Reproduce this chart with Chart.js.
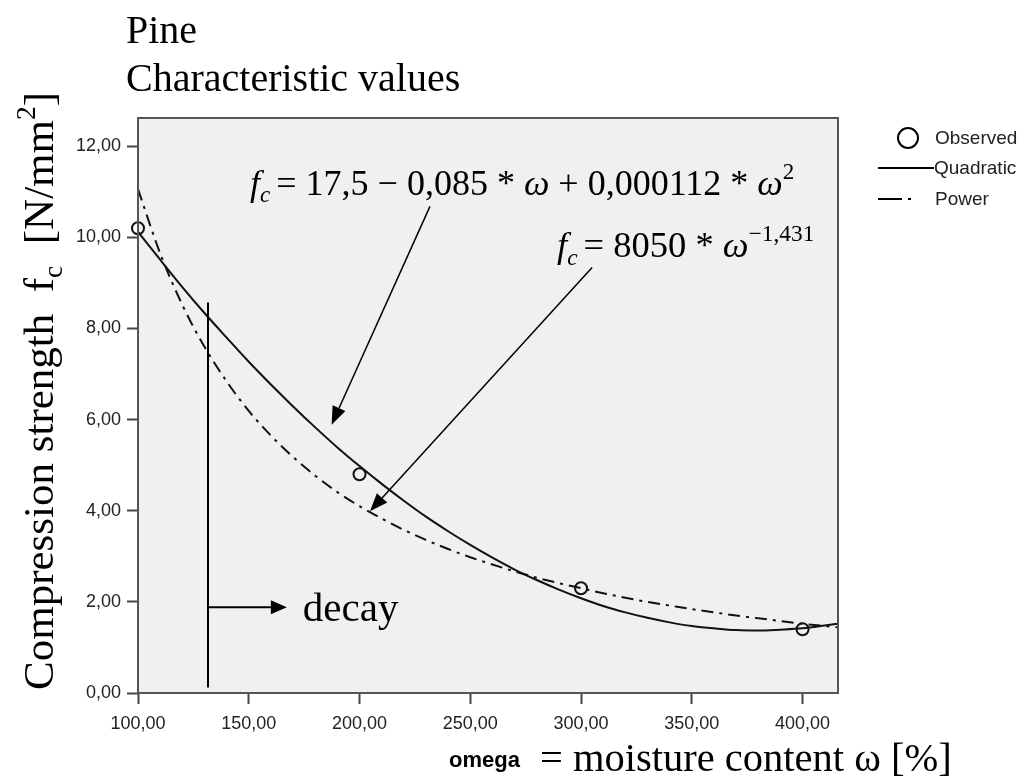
<!DOCTYPE html>
<html>
<head>
<meta charset="utf-8">
<script src="https://cdn.jsdelivr.net/npm/chart.js@4.4.0/dist/chart.umd.min.js"></script>
<style>
  html, body { margin: 0; padding: 0; background: #fff; }
  #wrap { width: 1030px; height: 781px; }
</style>
</head>
<body>
<div id="wrap"><canvas id="chart"></canvas></div>
<script>
// --- Data ---
const obsOmega = [100, 200, 300, 400];
const obsStrength = [10.2, 4.8, 2.3, 1.4];

const fitOmega = [100, 110, 120, 130, 140, 150, 160, 170, 180, 190, 200, 210, 220, 230, 240, 250,
                  260, 270, 280, 290, 300, 310, 320, 330, 340, 350, 360, 370, 380, 390, 400, 410, 416];
const quadStrength = [10.12, 9.51, 8.91, 8.34, 7.80, 7.27, 6.77, 6.29, 5.83, 5.39, 4.98, 4.59, 4.22, 3.87, 3.55, 3.25,
                      2.97, 2.71, 2.48, 2.27, 2.08, 1.91, 1.77, 1.65, 1.55, 1.47, 1.42, 1.38, 1.37, 1.39, 1.42, 1.48, 1.52];
const powerStrength = [11.06, 9.65, 8.52, 7.60, 6.84, 6.19, 5.65, 5.18, 4.77, 4.41, 4.10, 3.83, 3.58, 3.36, 3.16, 2.98,
                       2.82, 2.67, 2.53, 2.41, 2.30, 2.19, 2.09, 2.00, 1.92, 1.84, 1.77, 1.70, 1.64, 1.58, 1.52, 1.47, 1.44];

const xTickValues = [100, 150, 200, 250, 300, 350, 400];
const yTickValues = [0, 2, 4, 6, 8, 10, 12];

// annotation anchors in data units (omega, strength)
const decayLine = [[131.6, 0.12], [131.6, 8.57]];
const decayArrow = [[131.6, 1.88], [167.2, 1.88]];
const decayLabel = [174.4, 1.57];
const quadArrow = [[231.8, 10.68], [187.4, 5.89]];
const powerArrow = [[305, 9.34], [204.7, 3.99]];
const quadFormulaPos = [150.6, 10.94];
const powerFormulaPos = [289.2, 9.58];

const SERIF = '"Liberation Serif", "Times New Roman", serif';
const SANS = '"Liberation Sans", Arial, sans-serif';

const fmt = v => v.toFixed(2).replace(".", ",");

// --- rich text (italic / sub / sup) ---
function drawRich(ctx, x, y, parts, size) {
    ctx.textBaseline = "alphabetic";
    ctx.textAlign = "left";
    parts.forEach(p => {
        const sz = (p.sub || p.sup) ? size * 0.64 : size;
        const dy = p.sub ? size * 0.22 : p.sup ? -size * 0.42 : 0;
        ctx.font = (p.i ? "italic " : "") + sz + "px " + SERIF;
        ctx.fillText(p.t, x, y + dy);
        x += ctx.measureText(p.t).width + (p.gap || 0);
    });
    return x;
}

function arrow(ctx, x1, y1, x2, y2, len, half) {
    const a = Math.atan2(y2 - y1, x2 - x1);
    const bx = x2 - len * Math.cos(a), by = y2 - len * Math.sin(a);
    ctx.beginPath();
    ctx.moveTo(x1, y1);
    ctx.lineTo(bx, by);
    ctx.stroke();
    ctx.beginPath();
    ctx.moveTo(x2, y2);
    ctx.lineTo(bx + half * Math.sin(a), by - half * Math.cos(a));
    ctx.lineTo(bx - half * Math.sin(a), by + half * Math.cos(a));
    ctx.closePath();
    ctx.fill();
}

const decorPlugin = {
    id: "decor",
    beforeDraw(chart) {
        const { ctx, chartArea: a } = chart;
        ctx.save();
        ctx.fillStyle = "#f0f0f0";
        ctx.fillRect(a.left, a.top, a.right - a.left, a.bottom - a.top);
        ctx.restore();
    },
    afterDatasetsDraw(chart) {
        const { ctx, chartArea: a, scales: { x, y } } = chart;
        const px = p => [x.getPixelForValue(p[0]), y.getPixelForValue(p[1])];
        ctx.save();
        ctx.strokeStyle = "#555";
        ctx.lineWidth = 2;
        ctx.strokeRect(a.left, a.top, a.right - a.left, a.bottom - a.top);

        ctx.strokeStyle = "#000";
        ctx.fillStyle = "#000";
        ctx.lineWidth = 2;
        // decay marker
        const d0 = px(decayLine[0]), d1 = px(decayLine[1]);
        ctx.beginPath();
        ctx.moveTo(d0[0], d0[1]);
        ctx.lineTo(d1[0], d1[1]);
        ctx.stroke();
        const da = px(decayArrow[0]), db = px(decayArrow[1]);
        arrow(ctx, da[0], da[1], db[0], db[1], 16, 7);
        const dl = px(decayLabel);
        ctx.font = "41px " + SERIF;
        ctx.fillText("decay", dl[0], dl[1]);

        // formula arrows
        ctx.lineWidth = 1.5;
        let s = px(quadArrow[0]), e = px(quadArrow[1]);
        arrow(ctx, s[0], s[1], e[0], e[1], 18, 7);
        s = px(powerArrow[0]); e = px(powerArrow[1]);
        arrow(ctx, s[0], s[1], e[0], e[1], 18, 7);

        // formulas
        const q = px(quadFormulaPos);
        drawRich(ctx, q[0], q[1], [
            { t: "f", i: 1 }, { t: "c", i: 1, sub: 1, gap: 6 },
            { t: "= 17,5 − 0,085 * " }, { t: "ω", i: 1 },
            { t: " + 0,000112 * " }, { t: "ω", i: 1 }, { t: "2", sup: 1 }
        ], 36);
        const w = px(powerFormulaPos);
        drawRich(ctx, w[0], w[1], [
            { t: "f", i: 1 }, { t: "c", i: 1, sub: 1, gap: 6 },
            { t: "= 8050 * " }, { t: "ω", i: 1 }, { t: "−1,431", sup: 1 }
        ], 36.5);
        ctx.restore();
    },
    afterDraw(chart) {
        const { ctx } = chart;
        ctx.save();
        ctx.fillStyle = "#000";
        // titles
        ctx.font = "40px " + SERIF;
        ctx.textBaseline = "alphabetic";
        ctx.fillText("Pine", 126, 43);
        ctx.fillText("Characteristic values", 126, 91);

        // y axis title
        ctx.save();
        ctx.translate(53, 690);
        ctx.rotate(-Math.PI / 2);
        drawRich(ctx, 0, 0, [
            { t: "Compression strength  f" }, { t: "c", sub: 1 },
            { t: "  [N/mm" }, { t: "2", sup: 1 }, { t: "]" }
        ], 43);
        ctx.restore();

        // x axis title
        ctx.font = "bold 22px " + SANS;
        ctx.fillText("omega", 449, 767);
        ctx.font = "40.5px " + SERIF;
        ctx.fillText("= moisture content ω [%]", 540, 771);

        // legend
        ctx.fillStyle = "#222";
        ctx.font = "19px " + SANS;
        ctx.textBaseline = "middle";
        ctx.strokeStyle = "#000";
        ctx.lineWidth = 2;
        ctx.beginPath();
        ctx.arc(908, 138, 10, 0, Math.PI * 2);
        ctx.stroke();
        ctx.fillText("Observed", 935, 139);
        ctx.beginPath();
        ctx.moveTo(878, 168);
        ctx.lineTo(934, 168);
        ctx.stroke();
        ctx.fillText("Quadratic", 934, 169);
        ctx.beginPath();
        ctx.moveTo(878, 199);
        ctx.lineTo(902, 199);
        ctx.moveTo(908, 199);
        ctx.lineTo(911, 199);
        ctx.stroke();
        ctx.fillText("Power", 935, 200);
        ctx.restore();
    }
};

const ctx = document.getElementById("chart").getContext("2d");
new Chart(ctx, {
    type: "scatter",
    data: {
        datasets: [
            {
                label: "Observed",
                data: obsOmega.map((w, i) => ({ x: w, y: obsStrength[i] })),
                showLine: false,
                pointStyle: "circle",
                pointRadius: 6,
                pointBorderWidth: 2,
                pointBorderColor: "#111",
                pointBackgroundColor: "rgba(0,0,0,0)",
                clip: false
            },
            {
                label: "Quadratic",
                data: fitOmega.map((w, i) => ({ x: w, y: quadStrength[i] })),
                showLine: true,
                borderColor: "#111",
                borderWidth: 2,
                pointRadius: 0,
                cubicInterpolationMode: "monotone"
            },
            {
                label: "Power",
                data: fitOmega.map((w, i) => ({ x: w, y: powerStrength[i] })),
                showLine: true,
                borderColor: "#111",
                borderWidth: 2,
                borderDash: [12, 6, 3, 6],
                pointRadius: 0,
                cubicInterpolationMode: "monotone"
            }
        ]
    },
    options: {
        responsive: true,
        maintainAspectRatio: false,
        animation: false,
        layout: { padding: { left: 0, top: 118, right: 192, bottom: 0 } },
        plugins: { legend: { display: false }, tooltip: { enabled: false } },
        scales: {
            x: {
                type: "linear",
                min: 100,
                max: 416,
                afterBuildTicks: s => { s.ticks = xTickValues.map(v => ({ value: v })); },
                afterFit: s => { s.height = 88; },
                border: { display: false },
                grid: { drawOnChartArea: false, tickLength: 11, tickWidth: 2, color: "#444" },
                ticks: {
                    font: { family: SANS, size: 18 },
                    color: "#222",
                    padding: 9,
                    maxRotation: 0,
                    callback: v => fmt(v)
                }
            },
            y: {
                type: "linear",
                min: 0,
                max: 12.62,
                afterBuildTicks: s => { s.ticks = yTickValues.map(v => ({ value: v })); },
                afterFit: s => { s.width = 138; },
                border: { display: false },
                grid: { drawOnChartArea: false, tickLength: 11, tickWidth: 2, color: "#444" },
                ticks: {
                    font: { family: SANS, size: 18 },
                    color: "#222",
                    padding: 6,
                    callback: v => fmt(v)
                }
            }
        }
    },
    plugins: [decorPlugin]
});
</script>
</body>
</html>
